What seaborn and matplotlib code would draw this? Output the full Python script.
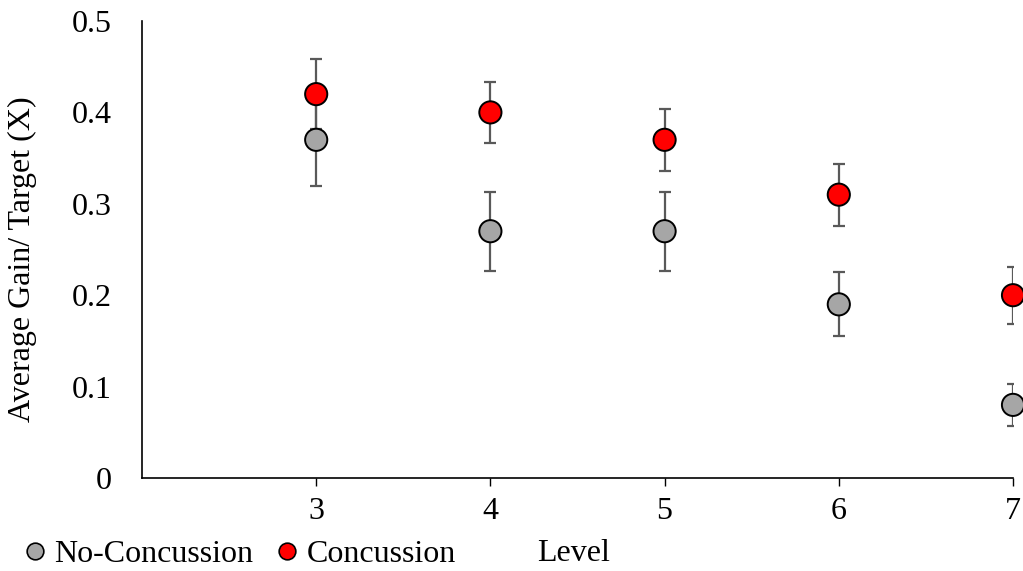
import numpy as np
import pandas as pd
import seaborn as sns
import matplotlib.pyplot as plt
from matplotlib.lines import Line2D

levels = [3, 4, 5, 6, 7]
no_conc = [0.37, 0.27, 0.27, 0.19, 0.08]
no_conc_err = [0.05, 0.043, 0.043, 0.035, 0.023]
conc = [0.42, 0.40, 0.37, 0.31, 0.20]
conc_err = [0.038, 0.033, 0.034, 0.034, 0.031]

groups = ['No-Concussion', 'Concussion']
colors = {'No-Concussion': '#a6a6a6', 'Concussion': '#ff0000'}

df = pd.DataFrame({
    'Level': levels * 2,
    'Gain': no_conc + conc,
    'Err': no_conc_err + conc_err,
    'Group': [groups[0]] * 5 + [groups[1]] * 5,
})

sns.set_style('white')
plt.rcParams['font.family'] = ['Liberation Serif', 'DejaVu Serif']
plt.rcParams['text.color'] = 'black'
plt.rcParams['xtick.color'] = 'black'
plt.rcParams['ytick.color'] = 'black'
plt.rcParams['axes.labelcolor'] = 'black'

fs = 23

fig = plt.figure(figsize=(10.23, 5.71), dpi=100)
ax = fig.add_axes([142 / 1023, 1 - 478 / 571, (1013 - 142) / 1023, (478 - 21) / 571])

# error bars first, markers on top
for g in groups:
    sub = df[df['Group'] == g]
    ax.errorbar(sub['Level'], sub['Gain'], yerr=sub['Err'], fmt='none',
                ecolor='#595959', elinewidth=1.6, capsize=4.5, capthick=1.6, zorder=2)

sns.scatterplot(data=df, x='Level', y='Gain', hue='Group', palette=colors,
                s=255, edgecolor='black', linewidth=1.4, legend=False,
                ax=ax, zorder=3, clip_on=False)

ax.set_xlim(2, 7)
ax.set_ylim(0, 0.5)
ax.set_xticks(levels)
ax.set_xticklabels([str(l) for l in levels])
ax.set_yticks([0, 0.1, 0.2, 0.3, 0.4, 0.5])
ax.set_yticklabels(['0', '0.1', '0.2', '0.3', '0.4', '0.5'])
ax.tick_params(axis='x', direction='out', length=6, width=1, labelsize=fs, pad=8, bottom=True)
ax.tick_params(axis='y', length=0, labelsize=fs, pad=22)

for side in ['top', 'right']:
    ax.spines[side].set_visible(False)
for side in ['left', 'bottom']:
    ax.spines[side].set_color('black')
    ax.spines[side].set_linewidth(1.2)

ax.set_ylabel('Average Gain/ Target (X)', fontsize=fs)
ax.yaxis.set_label_coords((37 - 142) / (1013 - 142), (478 - 259) / (478 - 21))
ax.set_xlabel('Level', fontsize=fs)
ax.xaxis.set_label_coords((574 - 142) / (1013 - 142), -(539 - 478) / (478 - 21))

handles = [Line2D([], [], marker='o', linestyle='none', markersize=12,
                  markerfacecolor=colors[g], markeredgecolor='black',
                  markeredgewidth=1.2, label=g) for g in groups]
fig.legend(handles=handles, loc='center left', bbox_to_anchor=(0 / 1023, 1 - 554 / 571),
           ncol=2, frameon=False, fontsize=fs, handletextpad=0.0,
           columnspacing=0.46, handlelength=1.2, borderpad=0)

fig.savefig('out.png', dpi=100)
